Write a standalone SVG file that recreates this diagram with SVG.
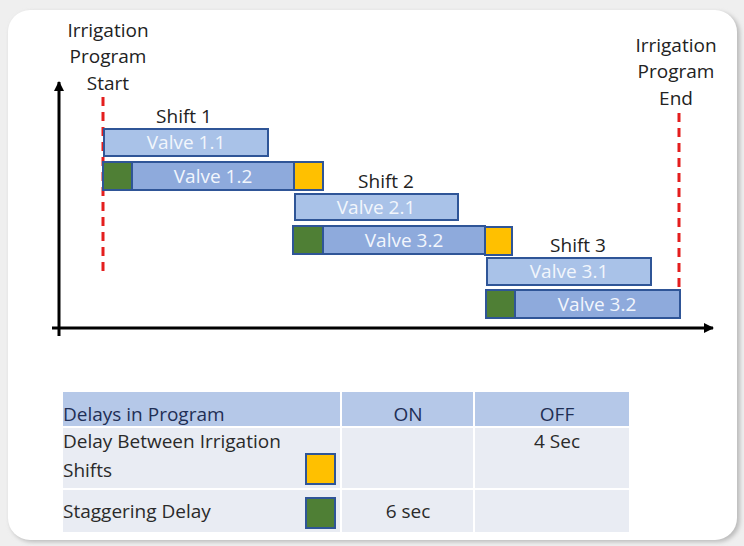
<svg xmlns="http://www.w3.org/2000/svg" width="744" height="546" viewBox="0 0 744 546">
<defs>
<marker id="ah" markerWidth="10" markerHeight="10" refX="9" refY="5" orient="auto" markerUnits="userSpaceOnUse">
<path d="M0,0 L10,5 L0,10 Z" fill="#000"/>
</marker>
<filter id="sh" x="-5%" y="-5%" width="110%" height="110%">
<feGaussianBlur stdDeviation="2"/>
</filter>
<style>
.lbl{font-family:"Open Sans","Liberation Sans",sans-serif;font-size:19px;fill:#222;text-anchor:middle}
.vt{font-family:"Open Sans","Liberation Sans",sans-serif;font-size:19px;fill:#f2f6fc;text-anchor:middle}
.bl{fill:#a9c2e8;stroke:#2f5597;stroke-width:2}
.bd{fill:#8eaadc;stroke:#2f5597;stroke-width:2}
.gr{fill:#4f7f35;stroke:#2f5597;stroke-width:2}
.ye{fill:#ffc000;stroke:#2f5597;stroke-width:2}
.red{stroke:#e41e1e;stroke-width:3;stroke-dasharray:9,6;fill:none}
.tt{font-family:"Open Sans","Liberation Sans",sans-serif;font-size:19px;fill:#2a2a2a}
.hd{fill:#1f2f55}
.th{fill:#b5c8e8}
.tb{fill:#e9ecf3}
</style>
</defs>
<rect x="0" y="0" width="744" height="546" fill="#efefef"/>
<rect x="10" y="12" width="730" height="530" rx="22" fill="#bbb" filter="url(#sh)"/>
<rect x="8" y="10" width="729" height="530" rx="22" fill="#fff"/>

<g id="start-label">
<text class="lbl" x="108" y="37">Irrigation</text>
<text class="lbl" x="108" y="63">Program</text>
<text class="lbl" x="108" y="90">Start</text>
</g>
<g id="end-label">
<text class="lbl" x="676" y="52">Irrigation</text>
<text class="lbl" x="676" y="78">Program</text>
<text class="lbl" x="676" y="105">End</text>
</g>

<g id="connectors">
<line x1="59" y1="336" x2="59" y2="82" stroke="#000" stroke-width="3" marker-end="url(#ah)"/>
<line x1="52" y1="328" x2="713" y2="328" stroke="#000" stroke-width="3" marker-end="url(#ah)"/>
<line class="red" x1="103" y1="97" x2="103" y2="277"/>
<line class="red" x1="679" y1="113" x2="679" y2="316"/>
</g>

<g id="shift1">
<text class="lbl" x="184" y="123">Shift 1</text>
<rect class="bl" x="104" y="129" width="164" height="27"/>
<text class="vt" x="186" y="149">Valve 1.1</text>
<rect class="gr" x="103" y="162" width="29" height="28"/>
<rect class="bd" x="132" y="162" width="162" height="28"/>
<text class="vt" x="213" y="183">Valve 1.2</text>
<rect class="ye" x="294" y="162" width="29" height="28"/>
</g>

<g id="shift2">
<text class="lbl" x="386" y="188">Shift 2</text>
<rect class="bl" x="295" y="194" width="163" height="26"/>
<text class="vt" x="376" y="214">Valve 2.1</text>
<rect class="gr" x="293" y="226" width="30" height="28"/>
<rect class="bd" x="323" y="226" width="162" height="28"/>
<text class="vt" x="404" y="247">Valve 3.2</text>
<rect class="ye" x="485" y="227" width="27" height="28"/>
</g>

<g id="shift3">
<text class="lbl" x="578" y="252">Shift 3</text>
<rect class="bl" x="487" y="258" width="164" height="27"/>
<text class="vt" x="569" y="278">Valve 3.1</text>
<rect class="gr" x="486" y="290" width="29" height="28"/>
<rect class="bd" x="515" y="290" width="165" height="28"/>
<text class="vt" x="597" y="311">Valve 3.2</text>
</g>

<g id="table">
<rect class="th" x="63" y="392" width="277" height="34"/>
<rect class="th" x="342" y="392" width="131" height="34"/>
<rect class="th" x="475" y="392" width="154" height="34"/>
<rect class="tb" x="63" y="428" width="277" height="60"/>
<rect class="tb" x="342" y="428" width="131" height="60"/>
<rect class="tb" x="475" y="428" width="154" height="60"/>
<rect class="tb" x="63" y="490" width="277" height="42"/>
<rect class="tb" x="342" y="490" width="131" height="42"/>
<rect class="tb" x="475" y="490" width="154" height="42"/>
<text class="tt hd" x="63" y="421">Delays in Program</text>
<text class="tt hd" x="408" y="421" text-anchor="middle">ON</text>
<text class="tt hd" x="557" y="421" text-anchor="middle">OFF</text>
<text class="tt" x="63" y="448">Delay Between Irrigation</text>
<text class="tt" x="63" y="477">Shifts</text>
<text class="tt" x="557" y="448" text-anchor="middle">4 Sec</text>
<rect class="ye" x="306" y="454" width="29" height="30"/>
<text class="tt" x="63" y="518">Staggering Delay</text>
<rect class="gr" x="306" y="498" width="29" height="30"/>
<text class="tt" x="408" y="518" text-anchor="middle">6 sec</text>
</g>
</svg>
